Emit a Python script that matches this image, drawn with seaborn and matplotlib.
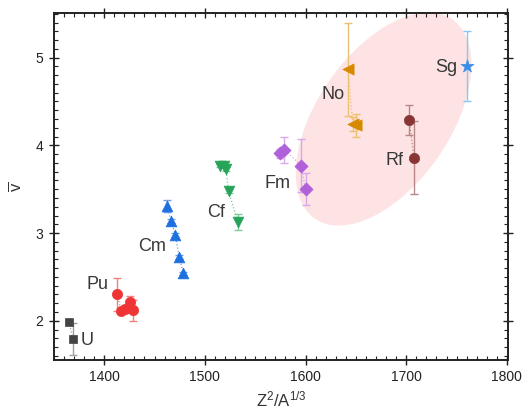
import numpy as np
import pandas as pd
import matplotlib
matplotlib.use("Agg")
import matplotlib.pyplot as plt
import seaborn as sns
from matplotlib.patches import Ellipse
from matplotlib.transforms import ScaledTranslation
from matplotlib.ticker import MultipleLocator

# ---- data ----
elements = ["U", "Pu", "Cm", "Cf", "Fm", "No", "Rf", "Sg"]
U_x = [1365, 1369]
U_y = [1.99, 1.79]
U_e = [0.02, 0.18]
Pu_x = [1413, 1417, 1421, 1425.5, 1429]
Pu_y = [2.30, 2.11, 2.14, 2.21, 2.12]
Pu_e = [0.19, 0.03, 0.04, 0.07, 0.12]
Cm_x = [1462, 1466.5, 1470.5, 1474.5, 1478.5]
Cm_y = [3.31, 3.14, 2.98, 2.73, 2.54]
Cm_e = [0.07, 0.02, 0.02, 0.02, 0.02]
Cf_x = [1515, 1519, 1521, 1523.5, 1532.5]
Cf_y = [3.77, 3.76, 3.73, 3.48, 3.13]
Cf_e = [0.02, 0.02, 0.02, 0.02, 0.09]
Fm_x = [1575, 1579, 1595.5, 1600]
Fm_y = [3.91, 3.95, 3.77, 3.50]
Fm_e = [0.05, 0.15, 0.30, 0.18]
No_x = [1642, 1647, 1650.5]
No_y = [4.87, 4.24, 4.23]
No_e = [0.53, 0.08, 0.13]
Rf_x = [1703, 1707.5]
Rf_y = [4.29, 3.86]
Rf_e = [0.17, 0.42]
Sg_x = [1760]
Sg_y = [4.90]
Sg_e = [0.40]

label_x = [1383, 1393, 1448, 1511, 1572, 1627, 1688, 1740]
label_y = [1.78, 2.41, 2.85, 3.23, 3.57, 4.58, 3.83, 4.89]

xticks = [1400, 1500, 1600, 1700, 1800]
yticks = [2, 3, 4, 5]

series = {
    "U": (U_x, U_y, U_e), "Pu": (Pu_x, Pu_y, Pu_e), "Cm": (Cm_x, Cm_y, Cm_e),
    "Cf": (Cf_x, Cf_y, Cf_e), "Fm": (Fm_x, Fm_y, Fm_e), "No": (No_x, No_y, No_e),
    "Rf": (Rf_x, Rf_y, Rf_e), "Sg": (Sg_x, Sg_y, Sg_e),
}
rows = []
for el, (xs, ys, es) in series.items():
    for x, y, e in zip(xs, ys, es):
        rows.append({"el": el, "x": x, "y": y, "e": e})
df = pd.DataFrame(rows)

colors = {"U": "#444444", "Pu": "#ee3434", "Cm": "#1e6fe0", "Cf": "#28a35a",
          "Fm": "#b060d8", "No": "#d78a00", "Rf": "#8a3535", "Sg": "#3a8ee6"}
ecolors = {"U": "#a0a0a0", "Pu": "#f08080", "Cm": "#6ea0e8", "Cf": "#7ccc9c",
           "Fm": "#d8a8ec", "No": "#ecc070", "Rf": "#b88888", "Sg": "#88c8f4"}
markers = {"U": "s", "Pu": "o", "Cm": "^", "Cf": "v", "Fm": "D", "No": "<",
           "Rf": "o", "Sg": "*"}
msizes = {"U": 40, "Pu": 55, "Cm": 60, "Cf": 60, "Fm": 45, "No": 65, "Rf": 55, "Sg": 95}

sns.set_theme(style="ticks")
plt.rcParams["font.family"] = ["Liberation Sans", "DejaVu Sans"]
plt.rcParams["mathtext.fontset"] = "custom"
plt.rcParams["mathtext.rm"] = "Liberation Sans"
plt.rcParams["mathtext.it"] = "Liberation Sans:italic"
plt.rcParams["mathtext.bf"] = "Liberation Sans:bold"

fig = plt.figure(figsize=(5.28, 4.16), dpi=100)
ax = fig.add_axes([0.102, 0.135, 0.860, 0.834])
ax.set_xlim(1350, 1801)
ax.set_ylim(1.555, 5.51)

# highlight ellipse (in screen inches, centred at a data point)
ell = Ellipse((0, 0), width=2.42, height=1.33, angle=55.4,
              transform=fig.dpi_scale_trans + ScaledTranslation(1677.5, 4.30, ax.transData),
              facecolor="#fde3e3", edgecolor="none", zorder=0)
ax.add_patch(ell)

for el in elements:
    d = df[df.el == el]
    ax.errorbar(d.x, d.y, yerr=d.e, fmt="none", ecolor=ecolors[el], elinewidth=1.0,
                capsize=3, capthick=1.0, zorder=2)
    if len(d) > 1:
        sns.lineplot(data=d, x="x", y="y", ax=ax, color=ecolors[el], lw=0.9,
                     linestyle=":", sort=False, estimator=None, legend=False, zorder=2)
    sns.scatterplot(data=d, x="x", y="y", ax=ax, color=colors[el], marker=markers[el],
                    s=msizes[el], edgecolor=colors[el], linewidth=0.5, legend=False, zorder=3)

for el, lx, ly in zip(elements, label_x, label_y):
    ax.text(lx, ly, el, fontsize=13, color="#383838", ha="center", va="center")

ax.set_xticks(xticks)
ax.set_yticks(yticks)
ax.xaxis.set_minor_locator(MultipleLocator(10))
ax.yaxis.set_minor_locator(MultipleLocator(0.1))
ax.tick_params(which="major", direction="inout", length=7, width=1.0,
               top=True, right=True, labelsize=10, colors="#222222", pad=4)
ax.tick_params(which="minor", direction="in", length=3, width=0.8, top=True, right=True,
               colors="#222222")
for sp in ax.spines.values():
    sp.set_linewidth(1.4)
    sp.set_color("#222222")

ax.set_xlabel(r"Z$^{2}$/A$^{1/3}$", fontsize=12, color="#333333", labelpad=4)
ax.set_ylabel(r"$\overline{\mathrm{v}}$", fontsize=12, color="#333333", labelpad=8)

fig.savefig("out.png", dpi=100)
